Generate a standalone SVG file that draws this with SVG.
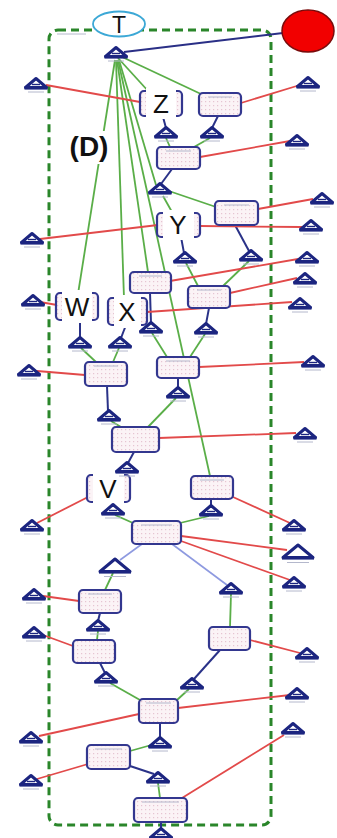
<svg xmlns="http://www.w3.org/2000/svg" xmlns:xlink="http://www.w3.org/1999/xlink" width="337" height="838" viewBox="0 0 337 838">
  <style>
    .frame { fill: none; stroke: #2a862a; stroke-width: 3; stroke-dasharray: 8 5; }
    .red { stroke: #e24a4a; stroke-width: 1.8; fill: none; }
    .grn { stroke: #5aae48; stroke-width: 1.8; fill: none; }
    .nav { stroke: #2a3288; stroke-width: 2; fill: none; }
    .lbl { stroke: #8e9ae0; stroke-width: 1.6; fill: none; }
    .blu { stroke: #2a2f86; stroke-width: 2; fill: none; }
    .box { fill: url(#speck); stroke: #33378f; stroke-width: 2.2; }
    .cap { stroke: #b4b8cc; stroke-width: 1; }
    .mask { fill: #ffffff; }
    .big { font-family: "Liberation Sans", Arial, sans-serif; font-size: 26px; fill: #111111; text-anchor: middle; }
  </style>
  <defs>
    <pattern id="speck" width="4" height="4" patternUnits="userSpaceOnUse">
      <rect width="4" height="4" fill="#fbf3f6"/>
      <rect x="1" y="1" width="1.2" height="1.2" fill="#e6c4d2"/>
    </pattern>
    <!-- place symbol: origin at centre of base -->
    <g id="pl">
      <path d="M-10.5,-0.5 L0,-9.5 L10.5,-0.5 Z" fill="#ffffff" stroke="#1c2580" stroke-width="3" stroke-linejoin="round"/>
      <line x1="-11.5" y1="0" x2="11.5" y2="0" stroke="#1c2580" stroke-width="3.2"/>
      <line x1="-4" y1="-3.5" x2="4" y2="-3.5" stroke="#1c2580" stroke-width="1.4"/>
      <line x1="-8" y1="4" x2="8" y2="4" class="cap"/>
    </g>
    <g id="plBig">
      <path d="M-15,-0.5 L0,-13 L15,-0.5 Z" fill="#ffffff" stroke="#1c2580" stroke-width="3" stroke-linejoin="round"/>
      <line x1="-16" y1="0" x2="16" y2="0" stroke="#1c2580" stroke-width="3.2"/>
      <line x1="-11" y1="4.5" x2="11" y2="4.5" class="cap"/>
    </g>
  </defs>

  <rect width="337" height="838" fill="#ffffff"/>

  <!-- dashed enclosure -->
  <rect class="frame" x="49" y="30" width="222" height="795" rx="9"/>
  <line x1="57" y1="34" x2="86" y2="34" class="cap"/>

  <!-- connectors -->
  <g id="connectors">
    <!-- link to the red terminal -->
    <line class="blu" x1="124" y1="52" x2="283" y2="33"/>

    <!-- green arcs -->
    <line class="grn" x1="118" y1="58" x2="149" y2="92"/>
    <line class="grn" x1="120" y1="56" x2="201" y2="94"/>
    <line class="grn" x1="115" y1="60" x2="78" y2="294"/>
    <line class="grn" x1="116" y1="60" x2="124" y2="298"/>
    <line class="grn" x1="117" y1="60" x2="148" y2="272"/>
    <line class="grn" x1="118" y1="60" x2="210" y2="476"/>
    <line class="grn" x1="119" y1="60" x2="156" y2="185"/>
    <line class="grn" x1="163" y1="196" x2="172" y2="212"/>
    <line class="grn" x1="166" y1="190" x2="216" y2="207"/>
    <line class="grn" x1="166" y1="138" x2="170" y2="147"/>
    <line class="grn" x1="210" y1="138" x2="194" y2="147"/>
    <line class="grn" x1="186" y1="263" x2="198" y2="286"/>
    <line class="grn" x1="249" y1="261" x2="223" y2="286"/>
    <line class="grn" x1="152" y1="333" x2="167" y2="357"/>
    <line class="grn" x1="205" y1="334" x2="190" y2="357"/>
    <line class="grn" x1="81" y1="348" x2="96" y2="362"/>
    <line class="grn" x1="119" y1="348" x2="113" y2="362"/>
    <line class="grn" x1="176" y1="398" x2="148" y2="427"/>
    <line class="grn" x1="111" y1="421" x2="121" y2="427"/>
    <line class="grn" x1="115" y1="515" x2="133" y2="523"/>
    <line class="grn" x1="209" y1="516" x2="180" y2="523"/>
    <line class="grn" x1="113" y1="573" x2="105" y2="590"/>
    <line class="grn" x1="231" y1="594" x2="230" y2="627"/>
    <line class="grn" x1="98" y1="631" x2="97" y2="640"/>
    <line class="grn" x1="110" y1="683" x2="140" y2="700"/>
    <line class="grn" x1="189" y1="689" x2="177" y2="700"/>
    <line class="grn" x1="155" y1="744" x2="130" y2="751"/>
    <line class="grn" x1="158" y1="783" x2="160" y2="798"/>

    <!-- short dark arcs -->
    <line class="nav" x1="163" y1="117" x2="166" y2="128"/>
    <line class="nav" x1="218" y1="116" x2="212" y2="128"/>
    <line class="nav" x1="172" y1="169" x2="161" y2="184"/>
    <line class="nav" x1="235" y1="225" x2="249" y2="251"/>
    <line class="nav" x1="181" y1="237" x2="184" y2="253"/>
    <line class="nav" x1="150" y1="293" x2="151" y2="323"/>
    <line class="nav" x1="209" y1="308" x2="206" y2="324"/>
    <line class="nav" x1="80" y1="320" x2="80" y2="338"/>
    <line class="nav" x1="126" y1="325" x2="121" y2="338"/>
    <line class="nav" x1="178" y1="378" x2="178" y2="388"/>
    <line class="nav" x1="107" y1="386" x2="108" y2="411"/>
    <line class="nav" x1="134" y1="452" x2="128" y2="463"/>
    <line class="nav" x1="112" y1="502" x2="113" y2="505"/>
    <line class="nav" x1="211" y1="499" x2="211" y2="506"/>
    <line class="nav" x1="100" y1="613" x2="98" y2="621"/>
    <line class="nav" x1="100" y1="663" x2="105" y2="673"/>
    <line class="nav" x1="220" y1="650" x2="194" y2="679"/>
    <line class="nav" x1="160" y1="723" x2="160" y2="738"/>
    <line class="nav" x1="130" y1="766" x2="154" y2="774"/>
    <line class="nav" x1="161" y1="822" x2="161" y2="829"/>

    <!-- pale arcs from the lower junction -->
    <line class="lbl" x1="142" y1="544" x2="120" y2="560"/>
    <line class="lbl" x1="172" y1="544" x2="227" y2="585"/>

    <!-- red arcs -->
    <line class="red" x1="46" y1="85" x2="140" y2="102"/>
    <line class="red" x1="241" y1="103" x2="300" y2="85"/>
    <line class="red" x1="200" y1="157" x2="290" y2="141"/>
    <line class="red" x1="40" y1="239" x2="158" y2="225"/>
    <line class="red" x1="200" y1="226" x2="302" y2="227"/>
    <line class="red" x1="258" y1="209" x2="313" y2="199"/>
    <line class="red" x1="170" y1="281" x2="298" y2="259"/>
    <line class="red" x1="230" y1="293" x2="297" y2="278"/>
    <line class="red" x1="147" y1="312" x2="292" y2="302"/>
    <line class="red" x1="40" y1="302" x2="57" y2="305"/>
    <line class="red" x1="37" y1="371" x2="85" y2="375"/>
    <line class="red" x1="199" y1="367" x2="304" y2="362"/>
    <line class="red" x1="159" y1="438" x2="296" y2="433"/>
    <line class="red" x1="88" y1="497" x2="37" y2="523"/>
    <line class="red" x1="233" y1="497" x2="290" y2="523"/>
    <line class="red" x1="181" y1="536" x2="287" y2="550"/>
    <line class="red" x1="181" y1="541" x2="290" y2="580"/>
    <line class="red" x1="43" y1="596" x2="79" y2="601"/>
    <line class="red" x1="43" y1="635" x2="73" y2="646"/>
    <line class="red" x1="250" y1="640" x2="300" y2="653"/>
    <line class="red" x1="39" y1="736" x2="139" y2="714"/>
    <line class="red" x1="178" y1="708" x2="290" y2="695"/>
    <line class="red" x1="37" y1="779" x2="88" y2="764"/>
    <line class="red" x1="182" y1="798" x2="284" y2="735"/>
  </g>

  <!-- terminals -->
  <g id="red-terminal">
    <ellipse cx="308" cy="31" rx="26" ry="21" fill="#f20000" stroke="#7a0b0b" stroke-width="1.5"/>
  </g>
  <g id="t-label">
    <ellipse cx="119" cy="24" rx="26" ry="12.5" fill="#ffffff" stroke="#3ca8d6" stroke-width="1.8"/>
    <text class="big" x="119" y="32.5" style="font-size:23px">T</text>
  </g>
  <g id="d-label">
    <rect class="mask" x="66" y="131" width="45" height="33"/>
    <text x="89" y="156" style="font-family:'Liberation Sans',Arial,sans-serif;font-size:28px;font-weight:bold;text-anchor:middle" fill="#111111">(D)</text>
  </g>

  <!-- transitions -->
  <g id="z"><rect class="box" x="140" y="91" width="42" height="25" rx="4"/><rect class="mask" x="146" y="88" width="30" height="31"/><text class="big" x="161" y="113">Z</text></g>
  <g id="y"><rect class="box" x="157" y="213" width="43" height="24" rx="4"/><rect class="mask" x="163" y="210" width="31" height="30"/><text class="big" x="178" y="234">Y</text></g>
  <g id="w"><rect class="box" x="56" y="293" width="42" height="27" rx="4"/><rect class="mask" x="62" y="290" width="30" height="33"/><text class="big" x="77" y="316">W</text></g>
  <g id="x"><rect class="box" x="108" y="298" width="39" height="27" rx="4"/><rect class="mask" x="114" y="295" width="27" height="33"/><text class="big" x="127" y="321">X</text></g>
  <g id="v"><rect class="box" x="87" y="475" width="43" height="27" rx="4"/><rect class="mask" x="93" y="472" width="31" height="33"/><text class="big" x="108" y="498">V</text></g>

  <g id="box1"><rect class="box" x="199" y="93" width="42" height="23" rx="4"/><line class="cap" x1="208" y1="97" x2="232" y2="97"/></g>
  <g id="box3"><rect class="box" x="157" y="147" width="43" height="22" rx="4"/><line class="cap" x1="166" y1="151" x2="191" y2="151"/></g>
  <g id="box4"><rect class="box" x="215" y="201" width="43" height="24" rx="4"/><line class="cap" x1="224" y1="205" x2="249" y2="205"/></g>
  <g id="box2"><rect class="box" x="130" y="272" width="41" height="21" rx="4"/><line class="cap" x1="139" y1="276" x2="162" y2="276"/></g>
  <g id="box5"><rect class="box" x="188" y="286" width="42" height="22" rx="4"/><line class="cap" x1="197" y1="290" x2="221" y2="290"/></g>
  <g id="box8"><rect class="box" x="157" y="357" width="42" height="21" rx="4"/><line class="cap" x1="166" y1="361" x2="190" y2="361"/></g>
  <g id="box7"><rect class="box" x="85" y="362" width="42" height="24" rx="4"/><line class="cap" x1="94" y1="366" x2="118" y2="366"/></g>
  <g id="box9"><rect class="box" x="112" y="427" width="47" height="25" rx="4"/></g>
  <g id="box6"><rect class="box" x="191" y="476" width="42" height="23" rx="4"/><line class="cap" x1="200" y1="480" x2="224" y2="480"/></g>
  <g id="box10"><rect class="box" x="132" y="521" width="49" height="23" rx="4"/><line class="cap" x1="141" y1="525" x2="172" y2="525"/></g>
  <g id="box11"><rect class="box" x="79" y="590" width="42" height="23" rx="4"/><line class="cap" x1="88" y1="594" x2="112" y2="594"/></g>
  <g id="box12"><rect class="box" x="73" y="640" width="42" height="23" rx="4"/></g>
  <g id="box13"><rect class="box" x="209" y="627" width="41" height="23" rx="4"/></g>
  <g id="box14"><rect class="box" x="139" y="699" width="39" height="24" rx="4"/><line class="cap" x1="146" y1="703" x2="171" y2="703"/></g>
  <g id="box15"><rect class="box" x="87" y="745" width="43" height="24" rx="4"/><line class="cap" x1="95" y1="749" x2="122" y2="749"/></g>
  <g id="box16"><rect class="box" x="134" y="798" width="53" height="24" rx="4"/><line class="cap" x1="142" y1="802" x2="179" y2="802"/></g>

  <!-- places -->
  <g id="places">
    <use href="#pl" x="116" y="57"/>
    <use href="#pl" x="36" y="88"/>
    <use href="#pl" x="308" y="87"/>
    <use href="#pl" x="166" y="137"/>
    <use href="#pl" x="212" y="137"/>
    <use href="#pl" x="297" y="145"/>
    <use href="#pl" x="160" y="193"/>
    <use href="#pl" x="32" y="243"/>
    <use href="#pl" x="322" y="203"/>
    <use href="#pl" x="311" y="230"/>
    <use href="#pl" x="251" y="260"/>
    <use href="#pl" x="185" y="262"/>
    <use href="#pl" x="307" y="262"/>
    <use href="#pl" x="305" y="283"/>
    <use href="#pl" x="300" y="308"/>
    <use href="#pl" x="33" y="305"/>
    <use href="#pl" x="151" y="332"/>
    <use href="#pl" x="206" y="333"/>
    <use href="#pl" x="80" y="347"/>
    <use href="#pl" x="120" y="347"/>
    <use href="#pl" x="29" y="375"/>
    <use href="#pl" x="313" y="366"/>
    <use href="#pl" x="178" y="397"/>
    <use href="#pl" x="109" y="420"/>
    <use href="#pl" x="305" y="438"/>
    <use href="#pl" x="127" y="472"/>
    <use href="#pl" x="113" y="514"/>
    <use href="#pl" x="211" y="515"/>
    <use href="#pl" x="32" y="530"/>
    <use href="#pl" x="294" y="530"/>
    <use href="#plBig" x="298" y="558"/>
    <use href="#pl" x="294" y="587"/>
    <use href="#plBig" x="115" y="572"/>
    <use href="#pl" x="231" y="593"/>
    <use href="#pl" x="34" y="599"/>
    <use href="#pl" x="98" y="630"/>
    <use href="#pl" x="34" y="637"/>
    <use href="#pl" x="307" y="658"/>
    <use href="#pl" x="106" y="682"/>
    <use href="#pl" x="192" y="688"/>
    <use href="#pl" x="297" y="698"/>
    <use href="#pl" x="31" y="742"/>
    <use href="#pl" x="160" y="747"/>
    <use href="#pl" x="293" y="733"/>
    <use href="#pl" x="31" y="785"/>
    <use href="#pl" x="158" y="782"/>
    <use href="#pl" x="161" y="838"/>
  </g>
</svg>
